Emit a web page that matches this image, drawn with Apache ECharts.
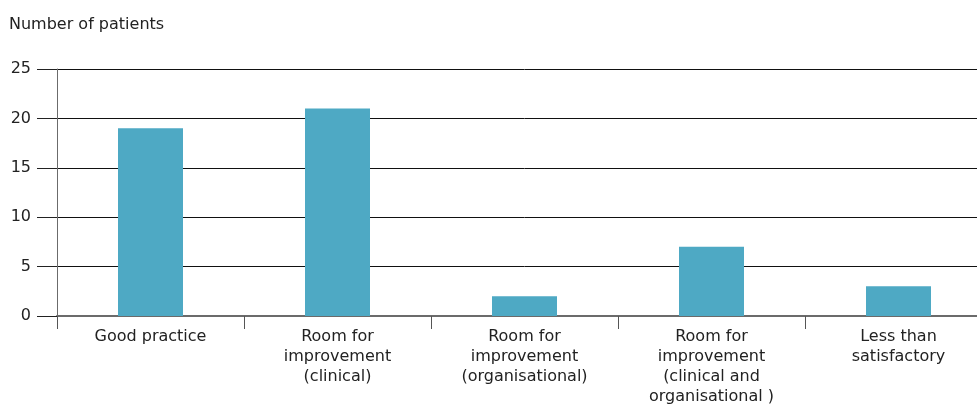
<!DOCTYPE html>
<html>
<head>
<meta charset="utf-8">
<script src="https://cdn.jsdelivr.net/npm/echarts@6/dist/echarts.min.js"></script>
</head>
<body style="margin:0;background:#fff;overflow:hidden">
<!-- the plot runs past the right edge of the picture, so the chart is wider than the window -->
<div id="main" style="width:995px;height:408px;"></div>
<script>
// categories and values
var categories = [
  'Good practice',
  'Room for\nimprovement\n(clinical)',
  'Room for\nimprovement\n(organisational)',
  'Room for\nimprovement\n(clinical and\norganisational )',
  'Less than\nsatisfactory'
];
var patients = [19, 21, 2, 7, 3];
var yTicks = [0, 5, 10, 15, 20, 25];

var myChart = echarts.init(document.getElementById('main'));
var font = '"DejaVu Sans", sans-serif';

myChart.setOption({
  animation: false,
  textStyle: { fontFamily: font },
  title: {
    text: 'Number of patients',
    left: 4, top: 12,
    textStyle: { fontFamily: font, fontSize: 16, fontWeight: 'normal', color: '#222' }
  },
  grid: { left: 57, right: 3, top: 69, bottom: 92, containLabel: false },
  xAxis: {
    type: 'category',
    data: categories,
    axisLine: { lineStyle: { color: '#6b6b6b', width: 2 } },
    axisTick: { show: true, length: 13, lineStyle: { color: '#555', width: 1 } },
    axisLabel: { color: '#222', fontSize: 16, lineHeight: 20, margin: 11, interval: 0 }
  },
  yAxis: {
    type: 'value',
    min: yTicks[0], max: yTicks[yTicks.length - 1], interval: 5,
    axisLine: { show: true, lineStyle: { color: '#6b6b6b', width: 1 } },
    axisTick: { show: true, length: 20, lineStyle: { color: '#222' } },
    axisLabel: { color: '#222', fontSize: 16, margin: 26 },
    splitLine: { lineStyle: { color: '#111', width: 1 } }
  },
  series: [{
    type: 'bar',
    data: patients,
    barWidth: 65,
    itemStyle: { color: '#4ea9c4' }
  }]
});
</script>
</body>
</html>
